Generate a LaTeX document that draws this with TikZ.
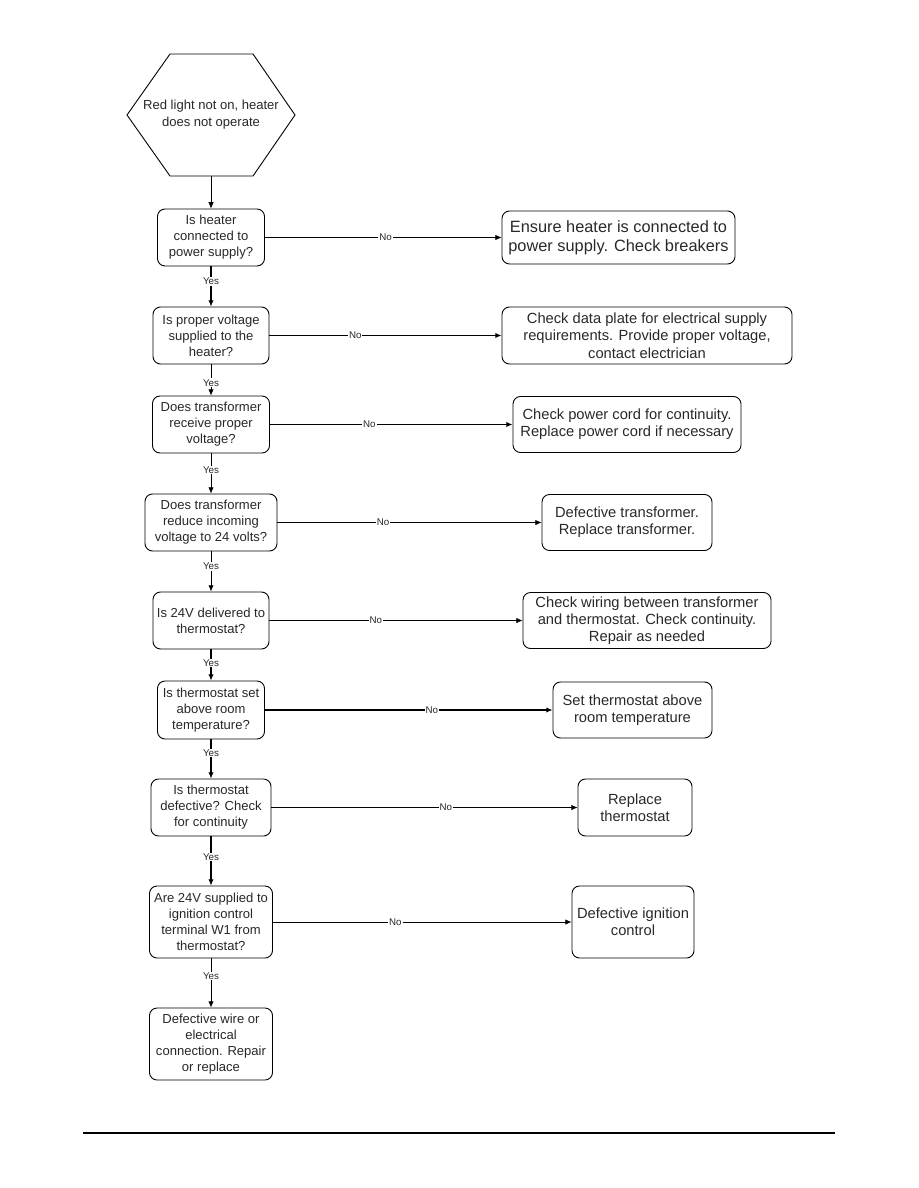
\documentclass[tikz,border=0pt]{standalone}
\usepackage{fontspec}
\setmainfont{Liberation Sans}
\usepackage{tikz}
\usetikzlibrary{arrows.meta}
\definecolor{flowtext}{RGB}{40,40,40}
\newcommand{\pxu}{0.6667pt}

\begin{document}
\begin{tikzpicture}[x=\pxu, y=-\pxu,
		>={Latex[length=4.2pt,width=3.6pt]},   %arrow tips
		qbox/.style 2 args={draw, line width=0.6pt, rounded corners=5pt, align=center, text=flowtext,
			minimum width=#1*\pxu, minimum height=#2*\pxu, inner sep=1pt, font=\fontsize{8.7}{10.7}\selectfont},
		abox/.style 2 args={draw, line width=0.6pt, rounded corners=5pt, align=center, text=flowtext,
			minimum width=#1*\pxu, minimum height=#2*\pxu, inner sep=1pt, font=\fontsize{9.8}{11.5}\selectfont},
		lbl/.style={fill=white, inner sep=0.6pt, text=flowtext, font=\fontsize{6.5}{7}\selectfont},
		flow/.style={->, line width=#1},
		flow/.default=0.45pt]
	%page frame
	\useasboundingbox (0,0) rectangle (918,1188);
	%start hexagon
	\draw[line width=0.6pt] (170,54) -- (253,54) -- (295,115) -- (253,176) -- (170,176) -- (127,115) -- cycle;
	\node[align=center, text=flowtext, font=\fontsize{8.7}{11.2}\selectfont] (start) at (211,115) {Red light not on, heater\\does not operate};
	\coordinate (startbot) at (211,176);
	%questions
	\node[qbox={107}{57}] (q1) at (211,237.5) {Is heater\\connected to\\power supply?};
	\node[qbox={116}{57}] (q2) at (211,335.5) {Is proper voltage\\supplied to the\\heater?};
	\node[qbox={117}{57}] (q3) at (211,424.5) {Does transformer\\receive proper\\voltage?};
	\node[qbox={132}{57}] (q4) at (211,522.5) {Does transformer\\reduce incoming\\voltage to 24 volts?};
	\node[qbox={116}{57}] (q5) at (211,620.5) {Is 24V delivered to\\thermostat?};
	\node[qbox={107}{58}] (q6) at (211,710) {Is thermostat set\\above room\\temperature?};
	\node[qbox={120}{57}] (q7) at (211,807.5) {Is thermostat\\defective? Check\\for continuity};
	\node[qbox={123}{72}] (q8) at (211,922) {Are 24V supplied to\\ignition control\\terminal W1 from\\thermostat?};
	\node[qbox={123}{72}] (q9) at (211,1044) {Defective wire or\\electrical\\connection. Repair\\or replace};
	%answers
	\node[abox={233}{53}, font=\fontsize{10.9}{12.7}\selectfont] (a1) at (618.5,237.5) {Ensure heater is connected to\\power supply. Check breakers};
	\node[abox={290}{57}] (a2) at (647,335.5) {Check data plate for electrical supply\\requirements. Provide proper voltage,\\contact electrician};
	\node[abox={228}{56}] (a3) at (627,424.5) {Check power cord for continuity.\\Replace power cord if necessary};
	\node[abox={170}{56}] (a4) at (627,522.5) {Defective transformer.\\Replace transformer.};
	\node[abox={248}{56}] (a5) at (647,620.5) {Check wiring between transformer\\and thermostat. Check continuity.\\Repair as needed};
	\node[abox={159}{56}] (a6) at (632.5,710) {Set thermostat above\\room temperature};
	\node[abox={114}{57}] (a7) at (635,807.5) {Replace\\thermostat};
	\node[abox={122}{72}] (a8) at (633,922) {Defective ignition\\control};
	%connectors
	\draw[flow] (startbot) -- (q1.north);
	\foreach \a/\b/\p/\w in {q1/q2/0.37/0.75pt, q2/q3/0.59/0.45pt, q3/q4/0.41/0.45pt, q4/q5/0.37/0.6pt,
			q5/q6/0.44/0.7pt, q6/q7/0.35/0.75pt, q7/q8/0.42/0.75pt, q8/q9/0.36/0.45pt}
		\draw[flow=\w] (\a.south) -- (\b.north) node[lbl, pos=\p] {Yes};
	\foreach \a/\b/\p/\w in {q1/a1/0.51/0.45pt, q2/a2/0.37/0.75pt, q3/a3/0.41/0.75pt, q4/a4/0.40/0.45pt,
			q5/a5/0.42/0.45pt, q6/a6/0.58/0.75pt, q7/a7/0.57/0.45pt, q8/a8/0.41/0.45pt}
		\draw[flow=\w] (\a.east) -- (\b.west) node[lbl, pos=\p] {No};
	%footer rule
	\draw[line width=1.4pt] (83,1133) -- (835,1133);
\end{tikzpicture}
\end{document}
